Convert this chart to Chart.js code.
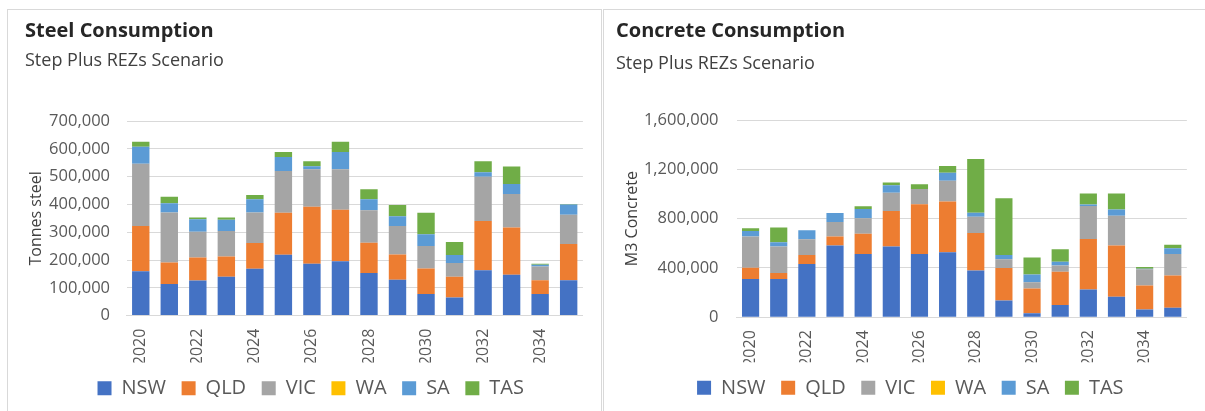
<!DOCTYPE html>
<html>
<head>
<meta charset="utf-8">
<script src="https://cdn.jsdelivr.net/npm/chart.js@4.4.1/dist/chart.umd.min.js"></script>
<style>
  html, body { margin: 0; padding: 0; background: #fff; width: 1205px; height: 411px; overflow: hidden; }
  .panel { position: absolute; top: 9px; height: 440px; border: 1px solid #d9d9d9; box-sizing: border-box; background: #fff; }
  #p1 { left: 7px; width: 595px; }
  #p2 { left: 603px; width: 640px; }
  .wrap { position: absolute; top: 10px; height: 410px; }
  #w1 { left: 8px; width: 593px; }
  #w2 { left: 605px; width: 600px; }
</style>
</head>
<body>
<div class="panel" id="p1"></div>
<div class="panel" id="p2"></div>
<div class="wrap" id="w1"><canvas id="steelChart"></canvas></div>
<div class="wrap" id="w2"><canvas id="concreteChart"></canvas></div>

<script>
/* ───────────── data */
const years   = ['2020','2021','2022','2023','2024','2025','2026','2027','2028','2029','2030','2031','2032','2033','2034','2035'];
const regions = ['NSW','QLD','VIC','WA','SA','TAS'];
const colors  = ['#4472C4','#ED7D31','#A5A5A5','#FFC000','#5B9BD5','#70AD47'];

// steel, tonnes
const steelNSW = [160000,114000,126000,140000,169000,219000,187000,196000,153000,129000, 78000, 65000,163000,147000, 78000,127000];
const steelQLD = [163000, 77000, 83000, 73000, 92000,151000,205000,185000,109000, 91000, 92000, 75000,178000,170000, 49000,131000];
const steelVIC = [224000,180000, 93000, 92000,110000,151000,135000,146000,117000,103000, 81000, 49000,159000,121000, 50000,105000];
const steelWA  = [0,0,0,0,0,0,0,0,0,0,0,0,0,0,0,0];
const steelSA  = [ 61000, 34000, 45000, 40000, 48000, 50000, 11000, 62000, 40000, 35000, 42000, 29000, 16000, 36000,  6000, 37000];
const steelTAS = [ 18000, 23000,  6000,  8000, 15000, 18000, 18000, 37000, 36000, 40000, 77000, 47000, 40000, 63000,  4000,  2000];

// concrete, m3
const concNSW = [310000,310000,432000,581000,513000,573000,513000,527000,378000,135000, 32000,100000,224000,165000, 62000, 76000];
const concQLD = [ 92000, 49000, 73000, 73000,165000,289000,403000,411000,306000,265000,200000,268000,411000,416000,195000,262000];
const concVIC = [252000,214000,127000,119000,125000,148000,125000,170000,132000, 70000, 52000, 51000,268000,243000,132000,175000];
const concWA  = [0,0,0,0,0,0,0,0,0,0,0,0,0,0,0,0];
const concSA  = [ 46000, 35000, 73000, 73000, 75000, 60000,     0, 65000, 32000, 35000, 62000, 30000, 11000, 49000,  5000, 47000];
const concTAS = [ 22000,119000,     0,     0, 22000, 22000, 38000, 54000,436000,460000,138000,103000, 89000,130000, 14000, 27000];

/* ───────────── helpers */
Chart.defaults.font.family = "'Open Sans', sans-serif";
Chart.defaults.animation = false;

function buildDatasets(series) {
  return series.map((d, i) => ({
    label: regions[i],
    data: d,
    backgroundColor: colors[i],
    borderWidth: 0,
    categoryPercentage: 1,
    barPercentage: 0.61
  }));
}

function makeChart(id, cfg) {
  const ctx = document.getElementById(id).getContext('2d');
  return new Chart(ctx, {
    type: 'bar',
    data: { labels: years, datasets: buildDatasets(cfg.series) },
    options: {
      responsive: true,
      maintainAspectRatio: false,
      layout: { padding: { left: cfg.padLeft, right: cfg.padRight, top: 0, bottom: cfg.padBottom } },
      plugins: {
        title: {
          display: true, text: cfg.title, align: 'start', color: '#262626',
          font: { size: 20, weight: 'bold' }, padding: { top: 9, bottom: 4 }
        },
        subtitle: {
          display: true, text: 'Step Plus REZs Scenario', align: 'start', color: '#404040',
          font: { size: 18 }, padding: { top: cfg.subTop, bottom: cfg.subBottom }
        },
        legend: {
          position: 'bottom',
          labels: { boxWidth: 14, boxHeight: 14, padding: 15.6, color: '#595959', font: { size: 20 } }
        },
        tooltip: { enabled: false }
      },
      scales: {
        x: {
          stacked: true,
          grid: { display: false, drawTicks: false },
          border: { display: true, color: '#d9d9d9' },
          ticks: {
            autoSkip: false, minRotation: 90, maxRotation: 90, padding: 13,
            color: '#595959', font: { size: 16 },
            callback: (v, i) => (i % 2 === 0 ? years[i] : '')
          },
          afterFit: s => { s.height = cfg.xHeight; }
        },
        y: {
          stacked: true,
          min: 0, max: cfg.max,
          grid: { color: '#d9d9d9', drawTicks: false },
          border: { display: false },
          ticks: {
            stepSize: cfg.step, padding: cfg.tickPad, color: '#595959', font: { size: 16.5 },
            callback: v => v.toLocaleString('en-US')
          },
          title: {
            display: true, text: cfg.yTitle, color: '#404040',
            font: { size: 16 }, padding: { top: cfg.yTitlePad, bottom: 0 }
          },
          afterFit: s => { s.width = cfg.yWidth; }
        }
      }
    }
  });
}

/* ───────────── charts */
makeChart('steelChart', {
  title: 'Steel Consumption', yTitle: 'Tonnes steel',
  series: [steelNSW, steelQLD, steelVIC, steelWA, steelSA, steelTAS],
  max: 700000, step: 100000,
  padLeft: 17, padRight: 4.5, padBottom: 11.8,
  subTop: 3, subBottom: 49.6,
  yWidth: 101.5, tickPad: 16.5, yTitlePad: 2,
  xHeight: 47
});

makeChart('concreteChart', {
  title: 'Concrete Consumption', yTitle: 'M3 Concrete',
  series: [concNSW, concQLD, concVIC, concWA, concSA, concTAS],
  max: 1600000, step: 400000,
  padLeft: 11, padRight: 0.4, padBottom: 12.2,
  subTop: 6, subBottom: 45.4,
  yWidth: 120.5, tickPad: 18, yTitlePad: 6.5,
  xHeight: 45
});
</script>
</body>
</html>
